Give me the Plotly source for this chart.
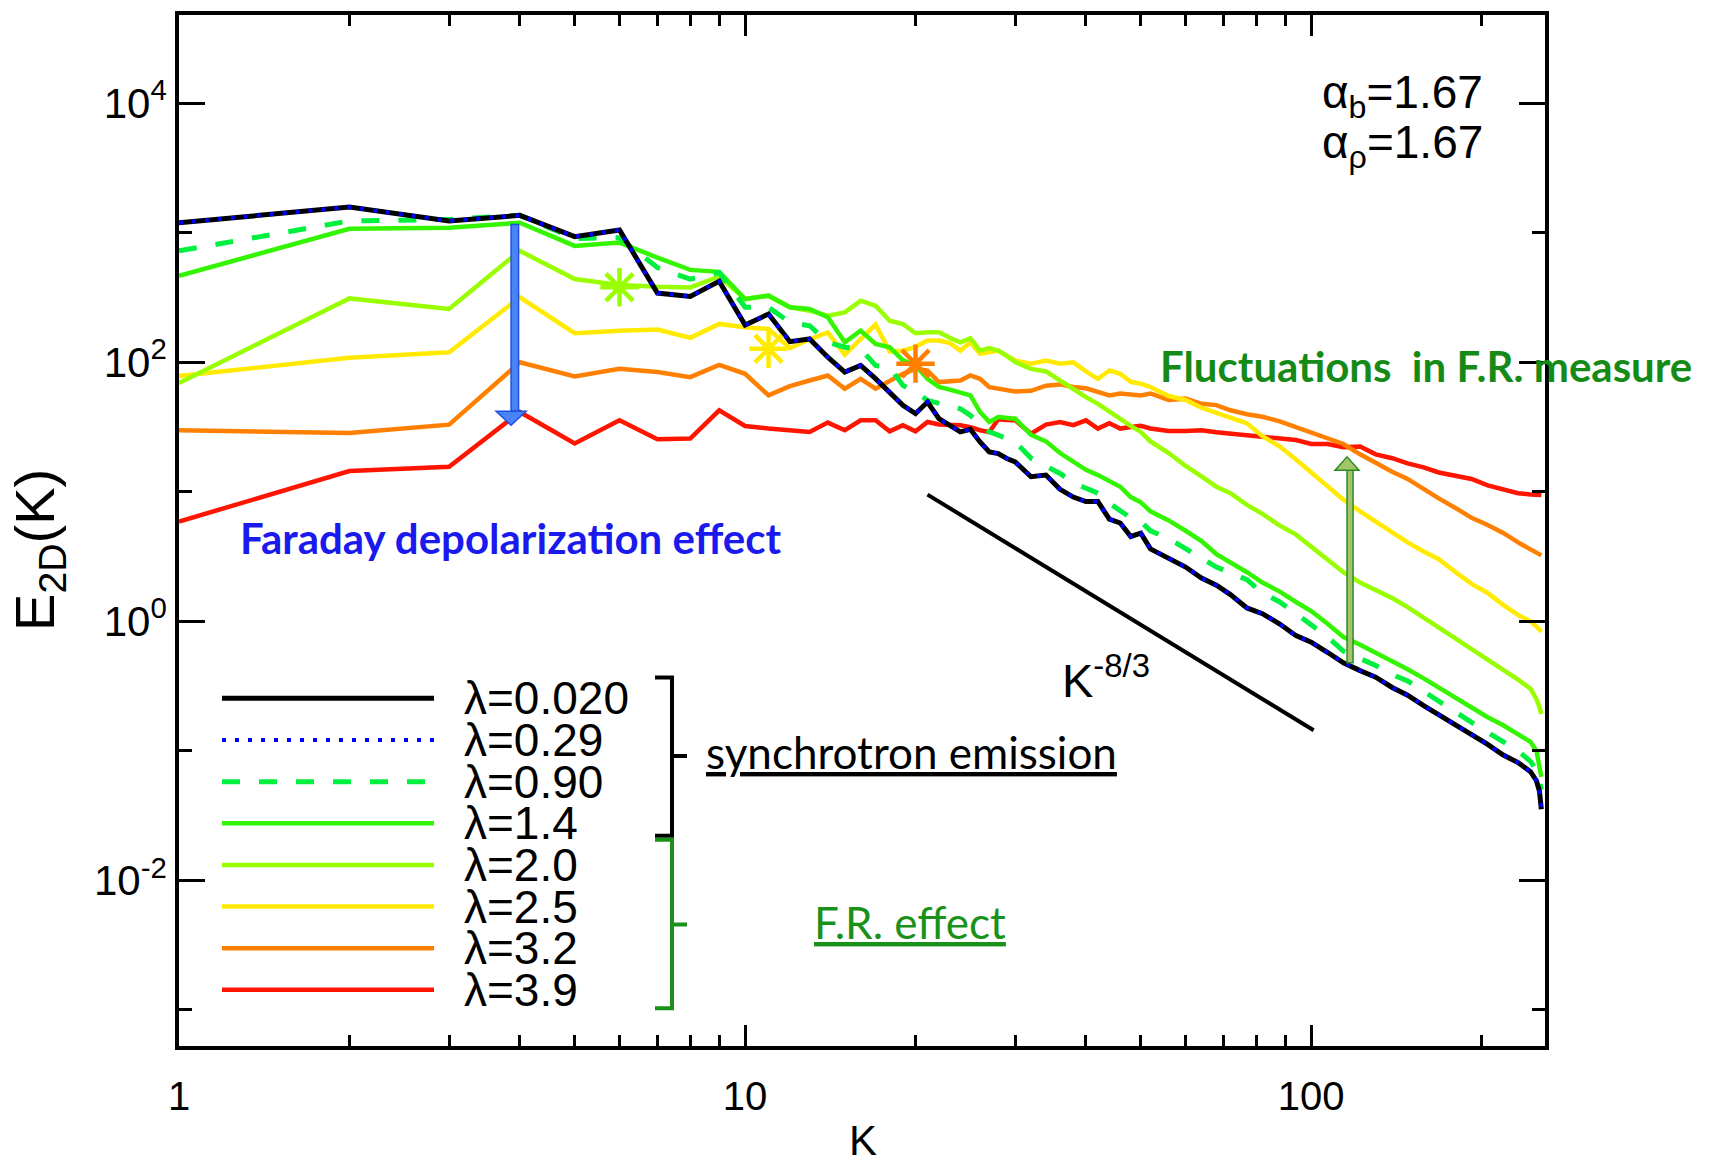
import numpy as np
import plotly.graph_objects as go

# ---------------- data ----------------
K = [1, 2, 3, 4, 5, 6, 7, 8, 9, 10, 11, 12, 13, 14, 15, 16, 17, 18, 19, 20,
     21, 22, 23, 24, 25, 26, 27, 28, 29, 30, 32, 34, 36, 38, 40, 42, 44, 46, 48, 50,
     52, 56, 60, 64, 68, 72, 77, 82, 88, 94, 100, 107, 114, 122, 130, 139, 148, 158,
     168, 180, 192, 205, 218, 232, 244, 250, 253, 255]

# log10 of E_2D(K) for each wavelength
log_E_lam0020 = [3.078, 3.199, 3.092, 3.135, 2.971, 3.022, 2.535, 2.509, 2.626, 2.289,
                 2.373, 2.160, 2.181, 2.040, 1.925, 1.977, 1.874, 1.771, 1.668, 1.604,
                 1.694, 1.565, 1.514, 1.463, 1.483, 1.386, 1.309, 1.296, 1.258, 1.232,
                 1.117, 1.130, 1.020, 0.960, 0.925, 0.925, 0.790, 0.760, 0.656, 0.681,
                 0.560, 0.490, 0.420, 0.335, 0.280, 0.207, 0.104, 0.060, -0.020, -0.110,
                 -0.160, -0.240, -0.320, -0.380, -0.430, -0.510, -0.570, -0.650, -0.720, -0.800,
                 -0.870, -0.950, -1.030, -1.090, -1.160, -1.230, -1.310, -1.450]
log_E_lam029 = [3.078, 3.199, 3.092, 3.135, 2.971, 3.022, 2.535, 2.509, 2.626, 2.289,
                2.373, 2.160, 2.181, 2.040, 1.925, 1.977, 1.874, 1.771, 1.668, 1.604,
                1.694, 1.565, 1.514, 1.463, 1.483, 1.386, 1.309, 1.296, 1.258, 1.232,
                1.117, 1.130, 1.020, 0.960, 0.925, 0.925, 0.790, 0.760, 0.656, 0.681,
                0.560, 0.490, 0.420, 0.335, 0.280, 0.207, 0.104, 0.060, -0.020, -0.110,
                -0.160, -0.240, -0.320, -0.380, -0.430, -0.510, -0.570, -0.650, -0.720, -0.800,
                -0.870, -0.950, -1.030, -1.090, -1.160, -1.230, -1.310, -1.450]
log_E_lam090 = [2.861, 3.092, 3.104, 3.135, 2.956, 2.963, 2.732, 2.643, 2.694, 2.425,
                2.425, 2.309, 2.283, 2.155, 2.117, 2.104, 1.976, 1.963, 1.822, 1.771,
                1.707, 1.681, 1.660, 1.642, 1.591, 1.530, 1.463, 1.438, 1.410, 1.386,
                1.260, 1.200, 1.142, 1.070, 1.030, 0.990, 0.912, 0.860, 0.800, 0.771,
                0.700, 0.640, 0.566, 0.489, 0.420, 0.370, 0.322, 0.220, 0.150, 0.060,
                -0.030, -0.120, -0.230, -0.290, -0.340, -0.410, -0.460, -0.540, -0.620, -0.700,
                -0.780, -0.860, -0.930, -1.000, -1.080, -1.150, -1.220, -1.300]
log_E_lam14 = [2.668, 3.032, 3.040, 3.078, 2.899, 2.925, 2.809, 2.714, 2.699, 2.489,
               2.515, 2.425, 2.412, 2.348, 2.155, 2.245, 2.143, 2.117, 2.015, 1.976,
               1.874, 1.810, 1.790, 1.771, 1.745, 1.617, 1.540, 1.578, 1.570, 1.565,
               1.440, 1.390, 1.300, 1.232, 1.170, 1.130, 1.080, 1.040, 0.960, 0.920,
               0.850, 0.780, 0.700, 0.620, 0.520, 0.460, 0.380, 0.300, 0.230, 0.150,
               0.080, -0.020, -0.120, -0.180, -0.240, -0.310, -0.370, -0.440, -0.510, -0.590,
               -0.660, -0.740, -0.800, -0.870, -0.930, -1.000, -1.100, -1.200]
log_E_lam20 = [1.840, 2.494, 2.412, 2.861, 2.643, 2.597, 2.584, 2.579, 2.663, 2.489,
               2.515, 2.425, 2.399, 2.360, 2.386, 2.476, 2.437, 2.322, 2.296, 2.225,
               2.232, 2.232, 2.190, 2.155, 2.186, 2.091, 2.110, 2.091, 2.050, 2.002,
               1.950, 1.930, 1.860, 1.790, 1.732, 1.680, 1.620, 1.560, 1.510, 1.463,
               1.390, 1.300, 1.200, 1.120, 1.040, 0.990, 0.900, 0.830, 0.740, 0.670,
               0.580, 0.480, 0.380, 0.300, 0.240, 0.180, 0.110, 0.030, -0.050, -0.130,
               -0.210, -0.290, -0.370, -0.450, -0.520, -0.600, -0.660, -0.716]
log_E_lam25 = [1.894, 2.035, 2.078, 2.502, 2.225, 2.245, 2.253, 2.190, 2.297, 2.271,
               2.258, 2.110, 2.178, 2.232, 2.060, 2.185, 2.292, 2.085, 2.090, 2.120,
               2.168, 2.168, 2.150, 2.091, 2.155, 2.066, 2.080, 2.091, 2.050, 2.014,
               1.989, 2.014, 1.989, 2.000, 1.930, 1.873, 1.937, 1.912, 1.850, 1.835,
               1.810, 1.740, 1.710, 1.650, 1.610, 1.570, 1.530, 1.430, 1.350, 1.250,
               1.150, 1.040, 0.940, 0.850, 0.770, 0.690, 0.610, 0.540, 0.480, 0.380,
               0.290, 0.220, 0.130, 0.050, 0.000, -0.040, -0.060, -0.080]
log_E_lam32 = [1.476, 1.455, 1.519, 2.001, 1.891, 1.950, 1.925, 1.886, 1.981, 1.912,
               1.745, 1.817, 1.860, 1.899, 1.797, 1.873, 1.797, 1.860, 1.912, 1.950,
               1.937, 1.848, 1.850, 1.860, 1.899, 1.873, 1.809, 1.795, 1.784, 1.775,
               1.780, 1.820, 1.830, 1.810, 1.800, 1.771, 1.745, 1.760, 1.750, 1.745,
               1.760, 1.710, 1.720, 1.680, 1.670, 1.630, 1.600, 1.580, 1.545, 1.500,
               1.465, 1.415, 1.370, 1.290, 1.220, 1.155, 1.100, 1.020, 0.950, 0.875,
               0.800, 0.745, 0.685, 0.610, 0.560, 0.535, 0.520, 0.510]
log_E_lam39 = [0.771, 1.161, 1.194, 1.617, 1.374, 1.553, 1.407, 1.412, 1.630, 1.509,
               1.489, 1.476, 1.463, 1.535, 1.476, 1.553, 1.553, 1.468, 1.515, 1.468,
               1.540, 1.520, 1.515, 1.515, 1.500, 1.476, 1.463, 1.561, 1.555, 1.553,
               1.450, 1.520, 1.540, 1.515, 1.553, 1.489, 1.530, 1.489, 1.501, 1.510,
               1.490, 1.470, 1.470, 1.476, 1.460, 1.450, 1.430, 1.420, 1.410, 1.400,
               1.370, 1.370, 1.345, 1.350, 1.290, 1.260, 1.220, 1.190, 1.150, 1.120,
               1.100, 1.050, 1.020, 0.990, 0.980, 0.978, 0.975, 0.976]

legend_labels = ["λ=0.020", "λ=0.29", "λ=0.90", "λ=1.4", "λ=2.0", "λ=2.5", "λ=3.2", "λ=3.9"]

# asterisk markers (K, log10 E) on lambda = 2.0, 2.5, 3.2
star_K = [6, 11, 20]
star_logE = [2.58, 2.105, 1.99]

# reference power law K^-8/3
ref_K = [21, 101]
ref_log_amp = 4.505
ref_slope = -8.0 / 3.0

# arrows: (K, log10 E start, log10 E tip)
blue_arrow = (3.86, 3.065, 1.515)
green_arrow = (115.7, -0.319, 1.271)

# ---------------- styles ----------------
series = [
    (legend_labels[7], log_E_lam39, "#ff1400", "solid", 4.5),
    (legend_labels[6], log_E_lam32, "#ff8000", "solid", 4.5),
    (legend_labels[5], log_E_lam25, "#ffea00", "solid", 4.5),
    (legend_labels[4], log_E_lam20, "#99ff00", "solid", 4.5),
    (legend_labels[3], log_E_lam14, "#33f500", "solid", 4.5),
    (legend_labels[2], log_E_lam090, "#00f040", "18px,19px", 5),
    (legend_labels[0], log_E_lam0020, "#000000", "solid", 5),
    (legend_labels[1], log_E_lam029, "#0000ff", "4px,9px", 4),
]
legend_style = {s[0]: s[2:] for s in series}
star_colors = ["#99ff00", "#ffea00", "#ff8000"]

ARIAL = "Liberation Sans, Arial, sans-serif"
CAL = "Lato, Open Sans, sans-serif"

W, H = 1718, 1168
L, R, T, B = 179, 173, 11, 122
PW, PH = W - L - R, H - T - B


def px(x):
    return (x - L) / PW


def py(y):
    return (H - B - y) / PH


fig = go.Figure()
for name, logs, color, dash, w in series:
    fig.add_trace(go.Scatter(x=K, y=np.power(10.0, logs), mode="lines", name=name,
                             line=dict(color=color, dash=dash, width=w), showlegend=False))

ref_y = [10 ** (ref_log_amp + ref_slope * np.log10(k)) for k in ref_K]
fig.add_trace(go.Scatter(x=ref_K, y=ref_y, mode="lines", line=dict(color="black", width=4),
                         showlegend=False))

fig.add_trace(go.Scatter(x=star_K, y=np.power(10.0, star_logE), mode="markers", showlegend=False,
                         marker=dict(symbol="asterisk-open", size=32, color=star_colors,
                                     line=dict(color=star_colors, width=4.5))))

shapes = []


def add_arrow(k, y0log, y1log, shaft, head, headlen_log, fill, edge):
    y0 = 10 ** y0log
    tip = 10 ** y1log
    up = y1log > y0log
    base = 10 ** (y1log - headlen_log if up else y1log + headlen_log)
    shapes.append(dict(type="rect", xref="x", yref="y", xsizemode="pixel", xanchor=k,
                       x0=-shaft / 2, x1=shaft / 2, y0=y0, y1=base,
                       fillcolor=fill, line=dict(color=edge, width=1.5), layer="above"))
    shapes.append(dict(type="path", xref="x", yref="y", xsizemode="pixel", xanchor=k,
                       path=f"M {-head/2},{base} L {head/2},{base} L 0,{tip} Z",
                       fillcolor=fill, line=dict(color=edge, width=1.5), layer="above"))


add_arrow(blue_arrow[0], blue_arrow[1], blue_arrow[2], 15, 30, 0.107, "#4a84f4", "#1f50e0")
add_arrow(green_arrow[0], green_arrow[1], green_arrow[2], 12, 24, 0.103, "#a4c46c", "#2e8b22")

annotations = []

# custom legend
row0, dy = 697.0, 41.8
for i, lab in enumerate(legend_labels):
    color, dash, w = legend_style[lab]
    yy = row0 + i * dy
    shapes.append(dict(type="line", xref="paper", yref="paper", x0=px(222), x1=px(434),
                       y0=py(yy), y1=py(yy), line=dict(color=color, dash=dash, width=w)))
    annotations.append(dict(text=lab, x=px(462), y=py(yy), xref="paper", yref="paper",
                            xanchor="left", yanchor="middle", showarrow=False,
                            font=dict(family=ARIAL, size=46, color="black")))


# brackets
def bracket(ytop, ybot, ymid, color):
    p = (f"M {px(655)},{py(ytop)} L {px(672)},{py(ytop)} L {px(672)},{py(ybot)} "
         f"L {px(655)},{py(ybot)} M {px(672)},{py(ymid)} L {px(687)},{py(ymid)}")
    shapes.append(dict(type="path", xref="paper", yref="paper", path=p,
                       line=dict(color=color, width=4)))


bracket(676, 835, 755, "black")
bracket(839, 1008, 924, "#1a921a")

annotations += [
    dict(text="α<sub>b</sub>=1.67", x=px(1320), y=py(92), xanchor="left", yanchor="middle",
         font=dict(family=ARIAL, size=46, color="black")),
    dict(text="α<sub>ρ</sub>=1.67", x=px(1320), y=py(142), xanchor="left", yanchor="middle",
         font=dict(family=ARIAL, size=46, color="black")),
    dict(text="K<sup>-8/3</sup>", x=px(1060), y=py(676), xanchor="left", yanchor="middle",
         font=dict(family=ARIAL, size=47, color="black")),
    dict(text="<b>Faraday depolarization effect</b>", x=px(238), y=py(536), xanchor="left",
         yanchor="middle", font=dict(family=CAL, size=42, color="#1a1aee")),
    dict(text="<b>Fluctuations  in F.R. measure</b>", x=px(1158), y=py(363), xanchor="left",
         yanchor="middle", font=dict(family=CAL, size=42, color="#168a16")),
    dict(text="<u>synchrotron emission</u>", x=px(704), y=py(751), xanchor="left",
         yanchor="middle", font=dict(family=CAL, size=44, color="black")),
    dict(text="<u>F.R. effect</u>", x=px(812), y=py(922), xanchor="left",
         yanchor="middle", font=dict(family=CAL, size=44, color="#1a921a")),
    dict(text="E<sub>2D</sub>(K)", x=px(39), y=py(548), xanchor="center", yanchor="middle",
         textangle=-90, font=dict(family=ARIAL, size=56, color="black")),
    dict(text="K", x=px(863), y=py(1141), xanchor="center", yanchor="middle",
         font=dict(family=ARIAL, size=42, color="black")),
]
for a in annotations:
    a.setdefault("xref", "paper")
    a.setdefault("yref", "paper")
    a.setdefault("showarrow", False)

x_major = [1, 10, 100]
x_minor = [2, 3, 4, 5, 6, 7, 8, 9, 20, 30, 40, 50, 60, 70, 80, 90, 200]
y_major = [1e-2, 1e0, 1e2, 1e4]
y_major_text = ["10<sup>-2</sup>", "10<sup>0</sup>", "10<sup>2</sup>", "10<sup>4</sup>"]
y_minor = [1e-3, 1e-1, 1e1, 1e3]

fig.update_layout(
    width=W, height=H, margin=dict(l=L, r=R, t=T, b=B),
    paper_bgcolor="white", plot_bgcolor="white",
    shapes=shapes, annotations=annotations, showlegend=False,
    xaxis=dict(type="log", range=[0, 2.413], showgrid=False, zeroline=False,
               showline=True, linewidth=3.5, linecolor="black", mirror="allticks",
               ticks="inside", ticklen=21, tickwidth=3, tickcolor="black",
               tickvals=x_major, ticktext=[str(v) for v in x_major],
               tickfont=dict(family=ARIAL, size=40, color="black"), ticklabelstandoff=12,
               minor=dict(tickvals=x_minor, ticks="inside", ticklen=11, tickwidth=3,
                          tickcolor="black", showgrid=False)),
    yaxis=dict(type="log", range=[-3.278, 4.682], showgrid=False, zeroline=False,
               showline=True, linewidth=3.5, linecolor="black", mirror="allticks",
               ticks="inside", ticklen=26, tickwidth=3, tickcolor="black",
               tickvals=y_major, ticktext=y_major_text,
               tickfont=dict(family=ARIAL, size=42, color="black"), ticklabelstandoff=0,
               minor=dict(tickvals=y_minor, ticks="inside", ticklen=13, tickwidth=3,
                          tickcolor="black", showgrid=False)),
)

fig.write_html("out.html")
